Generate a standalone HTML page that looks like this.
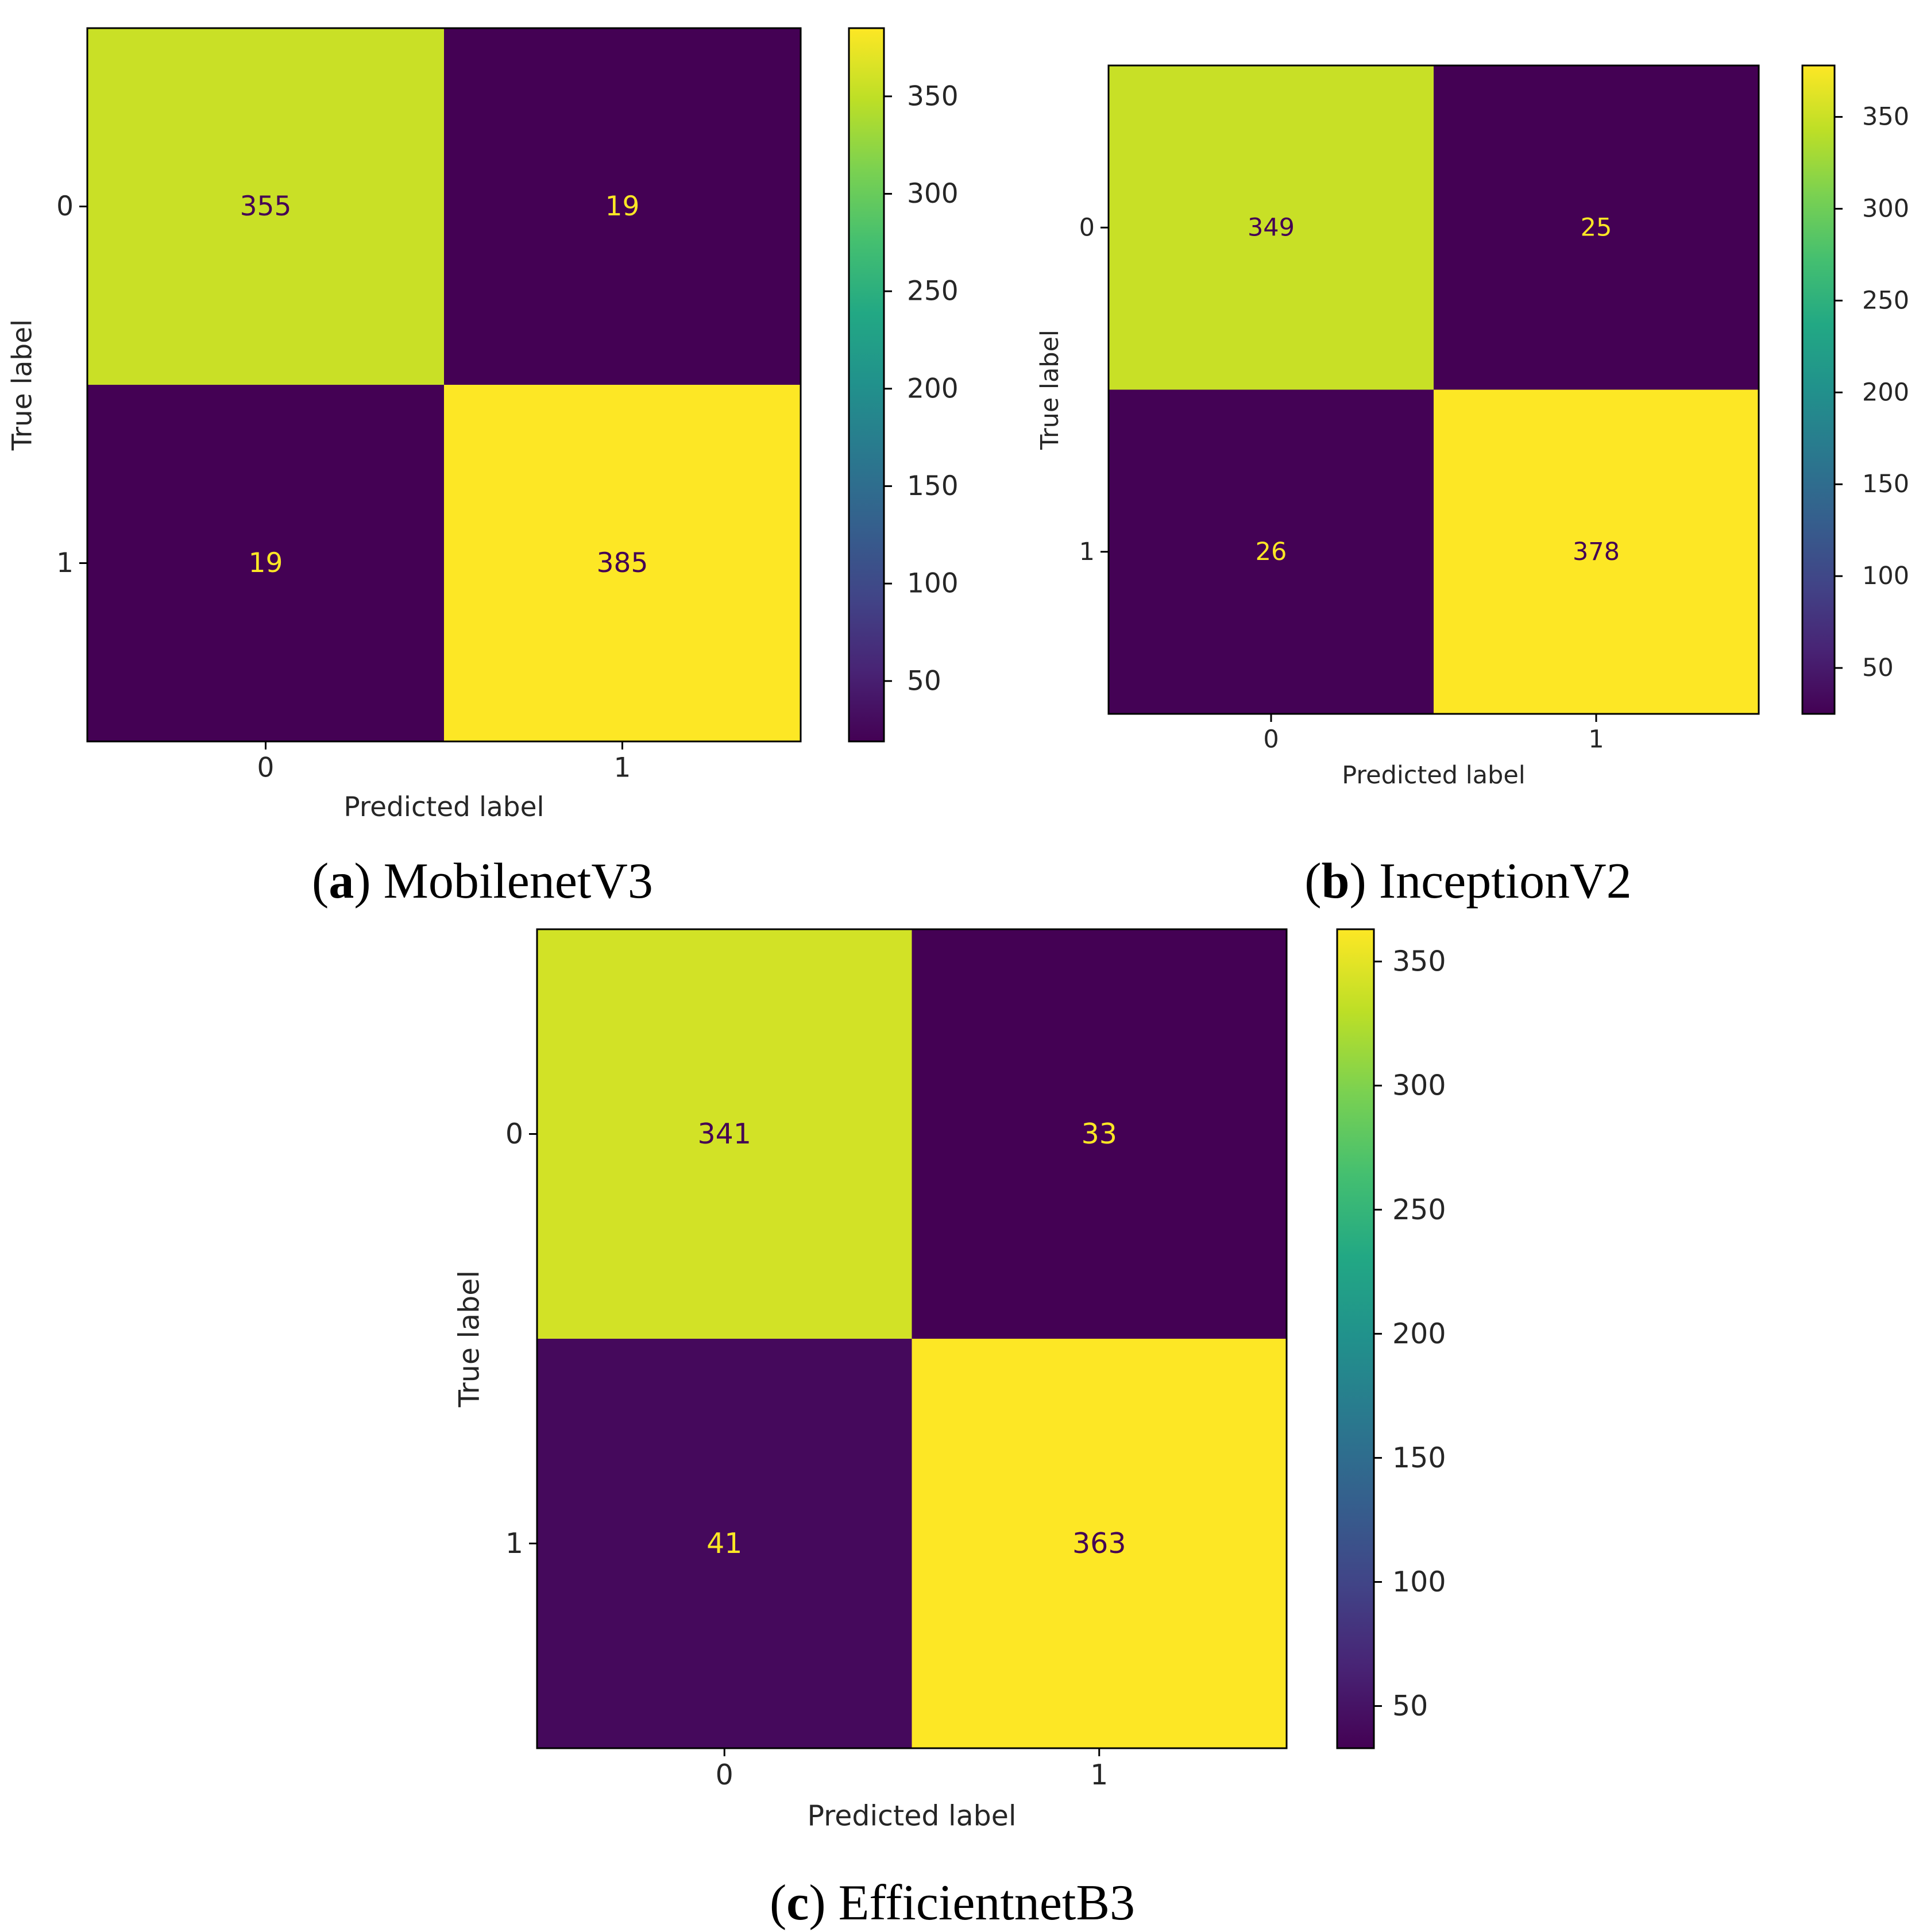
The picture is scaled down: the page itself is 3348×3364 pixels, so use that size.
<!DOCTYPE html>
<html><head><meta charset="utf-8">
<style>
html,body{margin:0;padding:0;background:#fff;}
svg{display:block;}
.tk{font-family:"DejaVu Sans","Liberation Sans",sans-serif;fill:#262626;}
.cap{font-family:"Liberation Serif",serif;fill:#000;}
</style></head>
<body>
<svg id="fig" width="3348" height="3364" viewBox="0 0 3348 3364" xmlns="http://www.w3.org/2000/svg">
<defs>
<linearGradient id="vir" x1="0" y1="1" x2="0" y2="0">
<stop offset="0" stop-color="#440154"/><stop offset="0.1" stop-color="#482475"/><stop offset="0.2" stop-color="#414487"/><stop offset="0.3" stop-color="#355f8d"/><stop offset="0.4" stop-color="#2a788e"/><stop offset="0.5" stop-color="#21918c"/><stop offset="0.6" stop-color="#22a884"/><stop offset="0.7" stop-color="#44bf70"/><stop offset="0.8" stop-color="#7ad151"/><stop offset="0.9" stop-color="#bddf26"/><stop offset="1" stop-color="#fde725"/>
</linearGradient>
</defs>
</svg>
<script>
const classLabels = ["0","1"];
const valuesA = [[355,19],[19,385]];
const valuesB = [[349,25],[26,378]];
const valuesC = [[341,33],[41,363]];
const cbarTicks = [50,100,150,200,250,300,350];
const captionsLetter = ["a","b","c"];
const captionsName = ["MobilenetV3","InceptionV2","EfficientnetB3"];

const panels = [
 {vals:valuesA, x0:152,x1:1394,y0:49,y1:1291, cb0:1478,cb1:1539, fs:47, cbpad:40, cap:[840,1563], ylab:39},
 {vals:valuesB, x0:1930,x1:3062,y0:114,y1:1243, cb0:3138,cb1:3194, fs:43, cbpad:48, cap:[2556,1563], ylab:1828},
 {vals:valuesC, x0:935,x1:2240,y0:1618,y1:3044, cb0:2328,cb1:2392, fs:49, cbpad:32, cap:[1658,3342], ylab:817}
];
const VIR=["#440154","#482475","#414487","#355f8d","#2a788e","#21918c","#22a884","#44bf70","#7ad151","#bddf26","#fde725"];
function hex(h){return [1,3,5].map(i=>parseInt(h.substr(i,2),16));}
function viridis(t){t=Math.max(0,Math.min(1,t));const p=t*10,i=Math.min(9,Math.floor(p)),f=p-i;const a=hex(VIR[i]),b=hex(VIR[i+1]);return "rgb("+a.map((v,k)=>Math.round(v+(b[k]-v)*f)).join(",")+")";}
const svg=document.getElementById('fig');
const NS="http://www.w3.org/2000/svg";
function el(t,attrs,parent){const e=document.createElementNS(NS,t);for(const k in attrs)e.setAttribute(k,attrs[k]);(parent||svg).appendChild(e);return e;}

panels.forEach((P,pi)=>{
 const g=el('g',{});
 
 
 const flat=P.vals.flat();const vmin=Math.min(...flat),vmax=Math.max(...flat);
 const n=classLabels.length;
 const cw=(P.x1-P.x0)/n,ch=(P.y1-P.y0)/n;
 const xc=j=>P.x0+cw*(j+0.5), yc=i=>P.y0+ch*(i+0.5);
 const norm=v=>(v-vmin)/(vmax-vmin);
 const thr=(vmin+vmax)/2;
 for(let i=0;i<n;i++)for(let j=0;j<n;j++){
  const v=P.vals[i][j];
  const r=el('rect',{x:P.x0+cw*j,y:P.y0+ch*i,width:cw,height:ch,fill:viridis(norm(v))},g);
  
  
  const t=el('text',{x:xc(j),y:yc(i),'text-anchor':'middle','dominant-baseline':'central','font-size':P.fs,class:'tk',style:'fill:'+(v<thr?viridis(1):viridis(0))},g);
  t.textContent=v;
  
  
 }
 const fr=el('rect',{x:P.x0,y:P.y0,width:P.x1-P.x0,height:P.y1-P.y0,fill:'none',stroke:'#000','stroke-width':3},g);
 
 
 for(let k=0;k<n;k++){
  el('line',{x1:xc(k),x2:xc(k),y1:P.y1,y2:P.y1+14,stroke:'#000','stroke-width':3},g);
  const xt=el('text',{x:xc(k),y:P.y1+24+P.fs*0.8,'text-anchor':'middle','font-size':P.fs,class:'tk'},g);
  xt.textContent=classLabels[k];
  
  
  el('line',{x1:P.x0-14,x2:P.x0,y1:yc(k),y2:yc(k),stroke:'#000','stroke-width':3},g);
  const yt=el('text',{x:P.x0-24,y:yc(k),'text-anchor':'end','dominant-baseline':'central','font-size':P.fs,class:'tk'},g);
  yt.textContent=classLabels[k];
  
  
 }
 const xl=el('text',{x:(P.x0+P.x1)/2,y:P.y1+24+P.fs*0.8+P.fs*1.45,'text-anchor':'middle','font-size':P.fs,class:'tk'},g);
 xl.textContent='Predicted label';
 
 
 const ym=(P.y0+P.y1)/2;
 const yl=el('text',{x:P.ylab,y:ym,'text-anchor':'middle','dominant-baseline':'central','font-size':P.fs,class:'tk',transform:'rotate(-90 '+P.ylab+' '+ym+')'},g);
 yl.textContent='True label';
 
 
 const cb=el('rect',{x:P.cb0,y:P.y0,width:P.cb1-P.cb0,height:P.y1-P.y0,fill:'url(#vir)',stroke:'#000','stroke-width':3},g);
 
 
 const cy=v=>P.y1-(v-vmin)/(vmax-vmin)*(P.y1-P.y0);
 cbarTicks.forEach(v=>{
  if(v<vmin||v>vmax)return;
  el('line',{x1:P.cb1,x2:P.cb1+14,y1:cy(v),y2:cy(v),stroke:'#000','stroke-width':3},g);
  const ct=el('text',{x:P.cb1+P.cbpad,y:cy(v),'dominant-baseline':'central','font-size':P.fs,class:'tk'},g);
  ct.textContent=v;
  
  
 });
 const cap=el('text',{x:P.cap[0],y:P.cap[1],'text-anchor':'middle','font-size':88,class:'cap'},g);
 cap.innerHTML='(<tspan font-weight="bold">'+captionsLetter[pi]+'</tspan>) '+captionsName[pi];
 
 
});
</script>
</body></html>
